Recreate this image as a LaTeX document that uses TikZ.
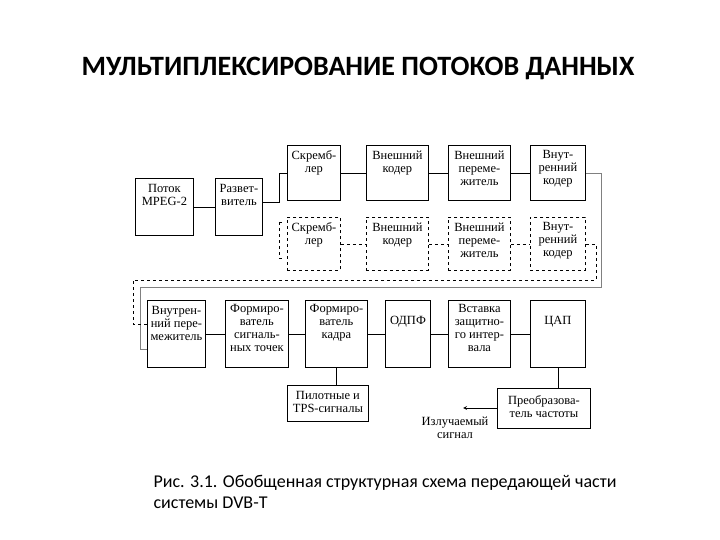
\documentclass[tikz,border=0pt]{standalone}
\usepackage{fontspec}
\setmainfont{Liberation Serif}
\newfontfamily\carl{Carlito}
\begin{document}
\begin{tikzpicture}[x=1pt,y=-1pt,
 bx/.style={draw,line width=0.9pt,align=center,inner sep=0pt,anchor=north west},
 dbx/.style={bx,dashed},
 ln/.style={line width=0.8pt},
 dln/.style={line width=0.7pt,dashed}]
\useasboundingbox[fill=white] (0,0) rectangle (720,540);
\node[font=\carl\bfseries\fontsize{28}{32}\selectfont] (title) at (358,68) {МУЛЬТИПЛЕКСИРОВАНИЕ ПОТОКОВ ДАННЫХ};
\newcommand\B[7]{\node[#1,minimum width=#4,minimum height=#5] (#2) at (#3) {};\node[font=\fontsize{12.5}{13}\selectfont,align=center,anchor=north] at ([yshift=#7]#2.north) {#6};}
\B{bx}{mpeg}{135,178}{58}{57}{Поток\\MPEG-2}{-3}
\B{bx}{spl}{215,178}{47}{57}{Развет-\\витель}{-3}
\B{bx}{s1}{287,145}{53}{55}{Скремб-\\лер}{-2}
\B{bx}{e1}{366,145}{62}{55}{Внешний\\кодер}{-2}
\B{bx}{p1}{448,145}{62}{55}{Внешний\\переме-\\житель}{-2}
\B{bx}{i1}{530,145}{55}{55}{Внут-\\ренний\\кодер}{-2}
\B{dbx}{s2}{287,217}{53}{53}{Скремб-\\лер}{-2}
\B{dbx}{e2}{366,217}{62}{53}{Внешний\\кодер}{-2}
\B{dbx}{p2}{448,217}{62}{53}{Внешний\\переме-\\житель}{-2}
\B{dbx}{i2}{530,217}{55}{53}{Внут-\\ренний\\кодер}{-2}
\B{bx}{ii}{147,300}{58}{67}{Внутрен-\\ний пере-\\межитель}{-3}
\B{bx}{fs}{225,300}{63}{67}{Формиро-\\ватель\\сигналь-\\ных точек}{-1}
\B{bx}{fk}{305,300}{62}{67}{Формиро-\\ватель\\кадра}{-1}
\B{bx}{od}{385,300}{45}{67}{ОДПФ}{-13}
\B{bx}{gi}{448,300}{62}{67}{Вставка\\защитно-\\го интер-\\вала}{-1}
\B{bx}{dac}{530,300}{55}{67}{ЦАП}{-13}
\B{bx}{pil}{287,385}{81}{36}{Пилотные и\\TPS-сигналы}{-3}
\B{bx}{conv}{497,388}{93}{40}{Преобразова-\\тель частоты}{-4}
\draw[ln] (mpeg) -- (spl);
\draw[ln] ([yshift=5]spl.east) -- ++(16,0) |- (s1.west);
\draw[dln] (spl.east |- s2.north) ++(16,5) coordinate (da) -- ++(0,36) coordinate (db);
\draw[dln] (da) -- ++(4,0); \draw[dln] (db) -- ++(6,0);
\draw[ln] (s1) -- (e1); \draw[ln] (e1) -- (p1); \draw[ln] (p1) -- (i1);
\draw[dln] (s2) -- (e2); \draw[dln] (e2) -- (p2); \draw[dln] (p2) -- (i2);
\draw[ln,gray] (i1.east) -- ++(15,0) coordinate (r1) -- (r1 |- 0,287) -- (140,287) |- ([yshift=-15]ii.west);
\draw[dln] (i2.east) -- ++(10,0) coordinate (r2) -- (r2 |- 0,280) -- (133,280) |- ([yshift=10]ii.west);
\draw[ln] (ii) -- (fs); \draw[ln] (fs) -- (fk); \draw[ln] (fk) -- (od);
\draw[ln] (od) -- (gi); \draw[ln] (gi) -- (dac);
\draw[ln] (fk.south) -- (fk.south |- pil.north);
\draw[ln] (dac.south) -- (dac.south |- conv.north);
\coordinate (tip) at (463,408);
\draw[ln,-stealth] (conv.west |- tip) -- (tip);
\node[font=\fontsize{12.5}{13}\selectfont,align=center] (rad) at (455,428) {Излучаемый\\сигнал};
\node[font=\carl\fontsize{18}{21}\selectfont,align=left,anchor=north west] (cap) at (150,472) {Рис. 3.1. Обобщенная структурная схема передающей части\\системы DVB-T};
\end{tikzpicture}
\end{document}
